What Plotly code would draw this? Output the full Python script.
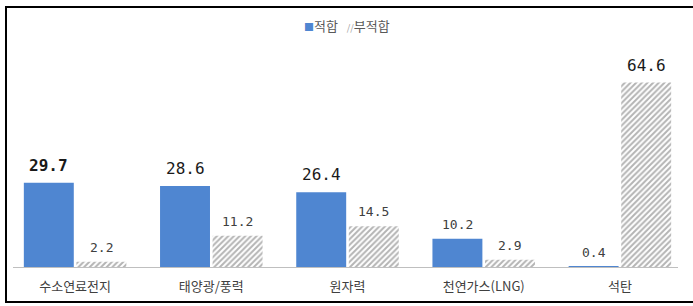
import plotly.graph_objects as go

categories = ["수소연료전지", "태양광/풍력", "원자력", "천연가스(LNG)", "석탄"]
suitable = [29.7, 28.6, 26.4, 10.2, 0.4]
unsuitable = [2.2, 11.2, 14.5, 2.9, 64.6]
series_names = ["적합", "부적합"]

W, H = 693, 306
ML, MR, MT, MB = 7, 5, 67, 38
PW = W - ML - MR
PH = H - MT - MB

blue = "#4F86D1"
hatch_fg = "#6a6a6a"
kfont = "Noto Sans CJK KR"
nfont = "DejaVu Sans Mono"

fig = go.Figure()
fig.add_trace(go.Bar(x=categories, y=suitable, name=series_names[0], showlegend=False,
                     marker=dict(color=blue, line=dict(width=0))))
fig.add_trace(go.Bar(x=categories, y=unsuitable, name=series_names[1], showlegend=False,
                     marker=dict(color="white", line=dict(width=0),
                                 pattern=dict(shape="/", fgcolor=hatch_fg, bgcolor="white",
                                              size=4, solidity=0.5))))

big = {("s", 0), ("s", 1), ("s", 2), ("u", 4)}
bold = {("s", 0)}
bargap = 0.228
slot = PW / len(categories) * (1 - bargap) / 2
annotations = []
for key, vals, sh in (("s", suitable, -slot / 2), ("u", unsuitable, slot / 2)):
    for i, v in enumerate(vals):
        isbig = (key, i) in big
        txt = f"{v:.1f}"
        if (key, i) in bold:
            txt = f"<b>{txt}</b>"
        annotations.append(dict(
            x=categories[i], y=v, xref="x", yref="y", text=txt, showarrow=False,
            xshift=sh, yshift=6 if isbig else 5, yanchor="bottom", xanchor="center",
            font=dict(family=nfont, size=16 if isbig else 13,
                      color="#1a1a1a" if isbig else "#404040")))

def px(xp):
    return (xp - ML) / PW

def py(yp):
    return (H - MB - yp) / PH

# legend (drawn as text)
legend_text = (f"<span style='color:{blue};font-size:10px'>■</span>{series_names[0]}"
               f"   <span style='color:#9a9a9a;font-size:9px'>//</span>{series_names[1]}")
annotations.append(dict(x=px(347), y=py(26), xref="paper", yref="paper", text=legend_text,
                        showarrow=False, xanchor="center", yanchor="middle",
                        font=dict(family=kfont, size=13, color="#595959")))

shapes = [
    dict(type="line", xref="paper", yref="paper", x0=px(13), x1=px(678),
         y0=py(267.5), y1=py(267.5), line=dict(color="#bfbfbf", width=1)),
    dict(type="rect", xref="paper", yref="paper", x0=px(6), x1=px(720),
         y0=py(302), y1=py(7), line=dict(color="black", width=2), fillcolor="rgba(0,0,0,0)"),
]

fig.update_layout(
    width=W, height=H,
    margin=dict(l=ML, r=MR, t=MT, b=MB, pad=0),
    paper_bgcolor="white", plot_bgcolor="white",
    barmode="group", bargap=bargap, bargroupgap=0.05,
    showlegend=False,
    xaxis=dict(showline=False, showgrid=False, ticks="", ticklabelstandoff=9,
               tickfont=dict(family=kfont, size=13, color="#404040"), fixedrange=True),
    yaxis=dict(range=[0, 70], visible=False, showgrid=False, zeroline=False, fixedrange=True),
    annotations=annotations,
    shapes=shapes,
)

fig.write_html("out.html")
